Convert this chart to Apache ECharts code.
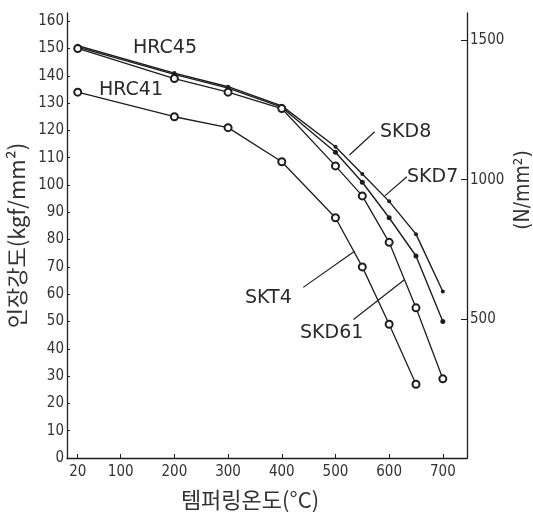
<!DOCTYPE html>
<html>
<head>
<meta charset="utf-8">
<script src="https://cdn.jsdelivr.net/npm/echarts@6/dist/echarts.min.js"></script>
<style>
    html, body { margin: 0; padding: 0; background: #fff; }
    #chart-tempering { width: 533px; height: 512px; }
</style>
</head>
<body>
<div id="chart-tempering"></div>
<script>
// 템퍼링 온도 (°C)
var temps = [20, 200, 300, 400, 500, 550, 600, 650, 700];
var tempsSKT4 = [20, 200, 300, 400, 500, 550, 600, 650];

// 인장강도 (kgf/mm²)
var skd8 = [151, 141, 136, 129, 114, 104, 94, 82, 61];
var skd7 = [150.5, 140.5, 135.5, 128.5, 112, 101, 88, 74, 50];
var skd61 = [150, 139, 134, 128, 107, 96, 79, 55, 29];
var skt4 = [134, 125, 121, 108.5, 88, 70, 49, 27];

// 눈금 라벨
var xTickLabels = [20, 100, 200, 300, 400, 500, 600, 700];
var leftTickLabels = [0, 10, 20, 30, 40, 50, 60, 70, 80, 90, 100, 110, 120, 130, 140, 150, 160];
var rightTickLabels = [500, 1000, 1500];

var KGF_TO_N = 9.807;
var LEFT_MAX = 163;

var ink = '#1e1e1e';
var numFont = "'DejaVu Sans Condensed', 'Liberation Sans Narrow', 'DejaVu Sans', sans-serif";
var krFont = "'Noto Sans CJK KR', sans-serif";

function pairs(xs, ys) {
    return ys.map(function (v, i) { return [xs[i], v]; });
}

// 지시선 (data 좌표)
var leaders = [
    [[573, 119.5], [526, 111]],   // SKD8
    [[633, 103], [592, 96]],      // SKD7
    [[440, 62.5], [535.5, 75.7]], // SKT4
    [[533.6, 50.7], [629, 65.4]]  // SKD61
];

function drawChart_tempering() {
    var chartDom = document.getElementById('chart-tempering');
    var myChart = echarts.init(chartDom, null, { renderer: 'canvas' });

    var axisLabelStyle = { color: '#333', fontFamily: numFont, fontSize: 15 };
    var plainNum = function (v) { return String(v); };
    var labelFont = '19px DejaVu Sans';

    var option = {
        backgroundColor: '#fff',
        animation: false,
        grid: { left: 67, right: 66, top: 13, bottom: 54, outerBoundsMode: 'none', containLabel: false },
        xAxis: {
            type: 'value',
            min: 0,
            max: 745,
            name: '템퍼링온도(°C)',
            nameLocation: 'middle',
            nameGap: 31,
            nameTextStyle: { color: '#333', fontFamily: krFont, fontSize: 22, padding: [0, 34, 0, 0] },
            axisLine: { lineStyle: { color: ink, width: 1.3 } },
            axisTick: { inside: true, length: 4, customValues: xTickLabels, lineStyle: { color: ink } },
            axisLabel: Object.assign({ margin: 7, customValues: xTickLabels, formatter: plainNum }, axisLabelStyle),
            splitLine: { show: false }
        },
        yAxis: [{
            type: 'value',
            min: 0,
            max: LEFT_MAX,
            name: '인장강도(kgf/mm²)',
            nameLocation: 'middle',
            nameRotate: 90,
            nameGap: 39,
            nameTextStyle: { color: '#333', fontFamily: krFont, fontSize: 22 },
            axisLine: { show: true, lineStyle: { color: ink, width: 1.3 } },
            axisTick: { inside: true, length: 3, customValues: leftTickLabels, lineStyle: { color: ink } },
            axisLabel: Object.assign({ margin: 3, customValues: leftTickLabels, formatter: plainNum }, axisLabelStyle),
            splitLine: { show: false }
        }, {
            type: 'value',
            position: 'right',
            min: 0,
            max: LEFT_MAX * KGF_TO_N,
            axisLine: { show: true, lineStyle: { color: ink, width: 1.3 } },
            axisTick: { inside: true, length: 6, customValues: rightTickLabels, lineStyle: { color: ink } },
            axisLabel: Object.assign({ margin: 3, customValues: rightTickLabels, formatter: plainNum }, axisLabelStyle),
            splitLine: { show: false }
        }],
        series: [{
            name: 'SKD8',
            type: 'line',
            data: pairs(temps, skd8),
            symbol: 'circle',
            symbolSize: 4,
            itemStyle: { color: ink },
            lineStyle: { color: ink, width: 1.4 },
            z: 2
        }, {
            name: 'SKD7',
            type: 'line',
            data: pairs(temps, skd7),
            symbol: 'circle',
            symbolSize: 5,
            itemStyle: { color: ink },
            lineStyle: { color: ink, width: 1.4 },
            z: 2
        }, {
            name: 'SKD61',
            type: 'line',
            data: pairs(temps, skd61),
            symbol: 'emptyCircle',
            symbolSize: 7,
            itemStyle: { color: ink, borderColor: ink, borderWidth: 1.3 },
            lineStyle: { color: ink, width: 1.3 },
            z: 3
        }, {
            name: 'SKT4',
            type: 'line',
            data: pairs(tempsSKT4, skt4),
            symbol: 'emptyCircle',
            symbolSize: 7,
            itemStyle: { color: ink, borderColor: ink, borderWidth: 1.3 },
            lineStyle: { color: ink, width: 1.3 },
            z: 3,
            markLine: {
                silent: true,
                symbol: 'none',
                animation: false,
                label: { show: false },
                lineStyle: { color: ink, width: 1.2, type: 'solid' },
                data: leaders.map(function (l) {
                    return [{ coord: l[0] }, { coord: l[1] }];
                })
            }
        }],
        graphic: [
            // 오른쪽 축 이름 (N/mm²)
            { type: 'text', x: 524, y: 190, rotation: Math.PI / 2, style: { text: '(N/mm²)', fill: '#333', font: '21px DejaVu Sans Condensed', textAlign: 'center', textVerticalAlign: 'middle' } },
            { type: 'text', x: 133, y: 48, style: { text: 'HRC45', fill: '#2a2a2a', font: labelFont, textVerticalAlign: 'middle' } },
            { type: 'text', x: 99, y: 90, style: { text: 'HRC41', fill: '#2a2a2a', font: labelFont, textVerticalAlign: 'middle' } },
            { type: 'text', x: 380, y: 132, style: { text: 'SKD8', fill: '#2a2a2a', font: labelFont, textVerticalAlign: 'middle' } },
            { type: 'text', x: 407, y: 177, style: { text: 'SKD7', fill: '#2a2a2a', font: labelFont, textVerticalAlign: 'middle' } },
            { type: 'text', x: 245, y: 298, style: { text: 'SKT4', fill: '#2a2a2a', font: labelFont, textVerticalAlign: 'middle' } },
            { type: 'text', x: 300, y: 333, style: { text: 'SKD61', fill: '#2a2a2a', font: labelFont, textVerticalAlign: 'middle' } }
        ]
    };

    myChart.setOption(option);
}

drawChart_tempering();
</script>
</body>
</html>
